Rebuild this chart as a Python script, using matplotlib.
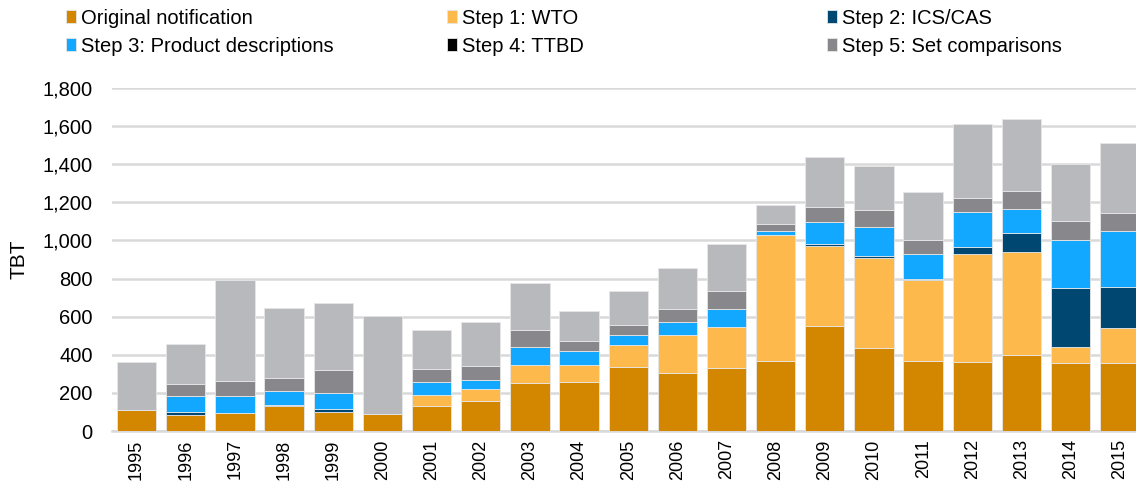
import numpy as np
import matplotlib.pyplot as plt

plt.rcParams['font.family'] = ['Liberation Sans', 'DejaVu Sans']

# data
years = [str(y) for y in range(1995, 2016)]
original = [108, 82, 94, 132, 99, 89, 132, 158, 252, 256, 336, 306, 331, 367, 550, 437, 369, 362, 400, 357, 357]
step1 = [0, 0, 0, 0, 0, 0, 58, 60, 94, 90, 114, 199, 214, 663, 421, 473, 423, 565, 540, 85, 181]
step2 = [0, 19, 0, 5, 14, 0, 0, 0, 0, 0, 0, 0, 0, 0, 10, 8, 8, 40, 100, 306, 215]
step3 = [0, 82, 89, 72, 85, 0, 69, 52, 96, 75, 56, 68, 97, 19, 115, 151, 129, 180, 123, 252, 295]
step4 = [0] * 21
step5 = [0, 62, 81, 69, 122, 0, 66, 71, 87, 52, 49, 65, 94, 35, 81, 88, 75, 74, 97, 103, 97]
other = [252, 211, 529, 369, 350, 517, 204, 232, 249, 157, 181, 216, 245, 101, 262, 233, 252, 392, 377, 297, 365]

series = [
    ('Original notification', original, '#d38600'),
    ('Step 1: WTO', step1, '#fdb94b'),
    ('Step 2: ICS/CAS', step2, '#004872'),
    ('Step 3: Product descriptions', step3, '#12a8ff'),
    ('Step 4: TTBD', step4, '#000000'),
    ('Step 5: Set comparisons', step5, '#88878c'),
    ('_other', other, '#b8b9bc'),
]

fig = plt.figure(figsize=(11.36, 4.94), dpi=100)
ax = fig.add_axes([0.0986, 0.1275, 0.9014, 0.6945])

x = np.arange(len(years))
bottom = np.zeros(len(years))
handles = {}
for name, vals, col in series:
    vals = np.array(vals, dtype=float)
    b = ax.bar(x, vals, 0.8, bottom=bottom, color=col, edgecolor='#e6e6e6',
               linewidth=0.6, label=name, zorder=3)
    handles[name] = b
    bottom += vals

ax.set_xlim(-0.5, 20.33)
ax.set_ylim(0, 1800)
ax.set_yticks(range(0, 1801, 200))
ax.set_yticklabels([f'{v:,}' for v in range(0, 1801, 200)], fontsize=14.5)
ax.set_xticks(x)
ax.set_xticklabels(years, rotation=90, fontsize=13)
ax.grid(axis='y', color='#d9d9d9', linewidth=1.8, zorder=0)
for s in ['top', 'right', 'left']:
    ax.spines[s].set_visible(False)
ax.spines['bottom'].set_color('#d9d9d9')
ax.spines['bottom'].set_linewidth(1.8)
ax.tick_params(axis='y', length=0, pad=14)
ax.tick_params(axis='x', length=0, pad=6)
ax.set_ylabel('TBT', fontsize=15, labelpad=10)

# legend: three columns placed separately
cols = [['Original notification', 'Step 3: Product descriptions'],
        ['Step 1: WTO', 'Step 4: TTBD'],
        ['Step 2: ICS/CAS', 'Step 5: Set comparisons']]
xpos = [0.0581, 0.3935, 0.7280]
for names, xp in zip(cols, xpos):
    leg = fig.legend([handles[n] for n in names], names, loc='upper left',
                     bbox_to_anchor=(xp, 0.982), frameon=False, fontsize=14.5,
                     handlelength=0.5, handleheight=0.6, handletextpad=0.25,
                     labelspacing=0.45, borderpad=0, borderaxespad=0)

fig.savefig('out.png', dpi=100)
